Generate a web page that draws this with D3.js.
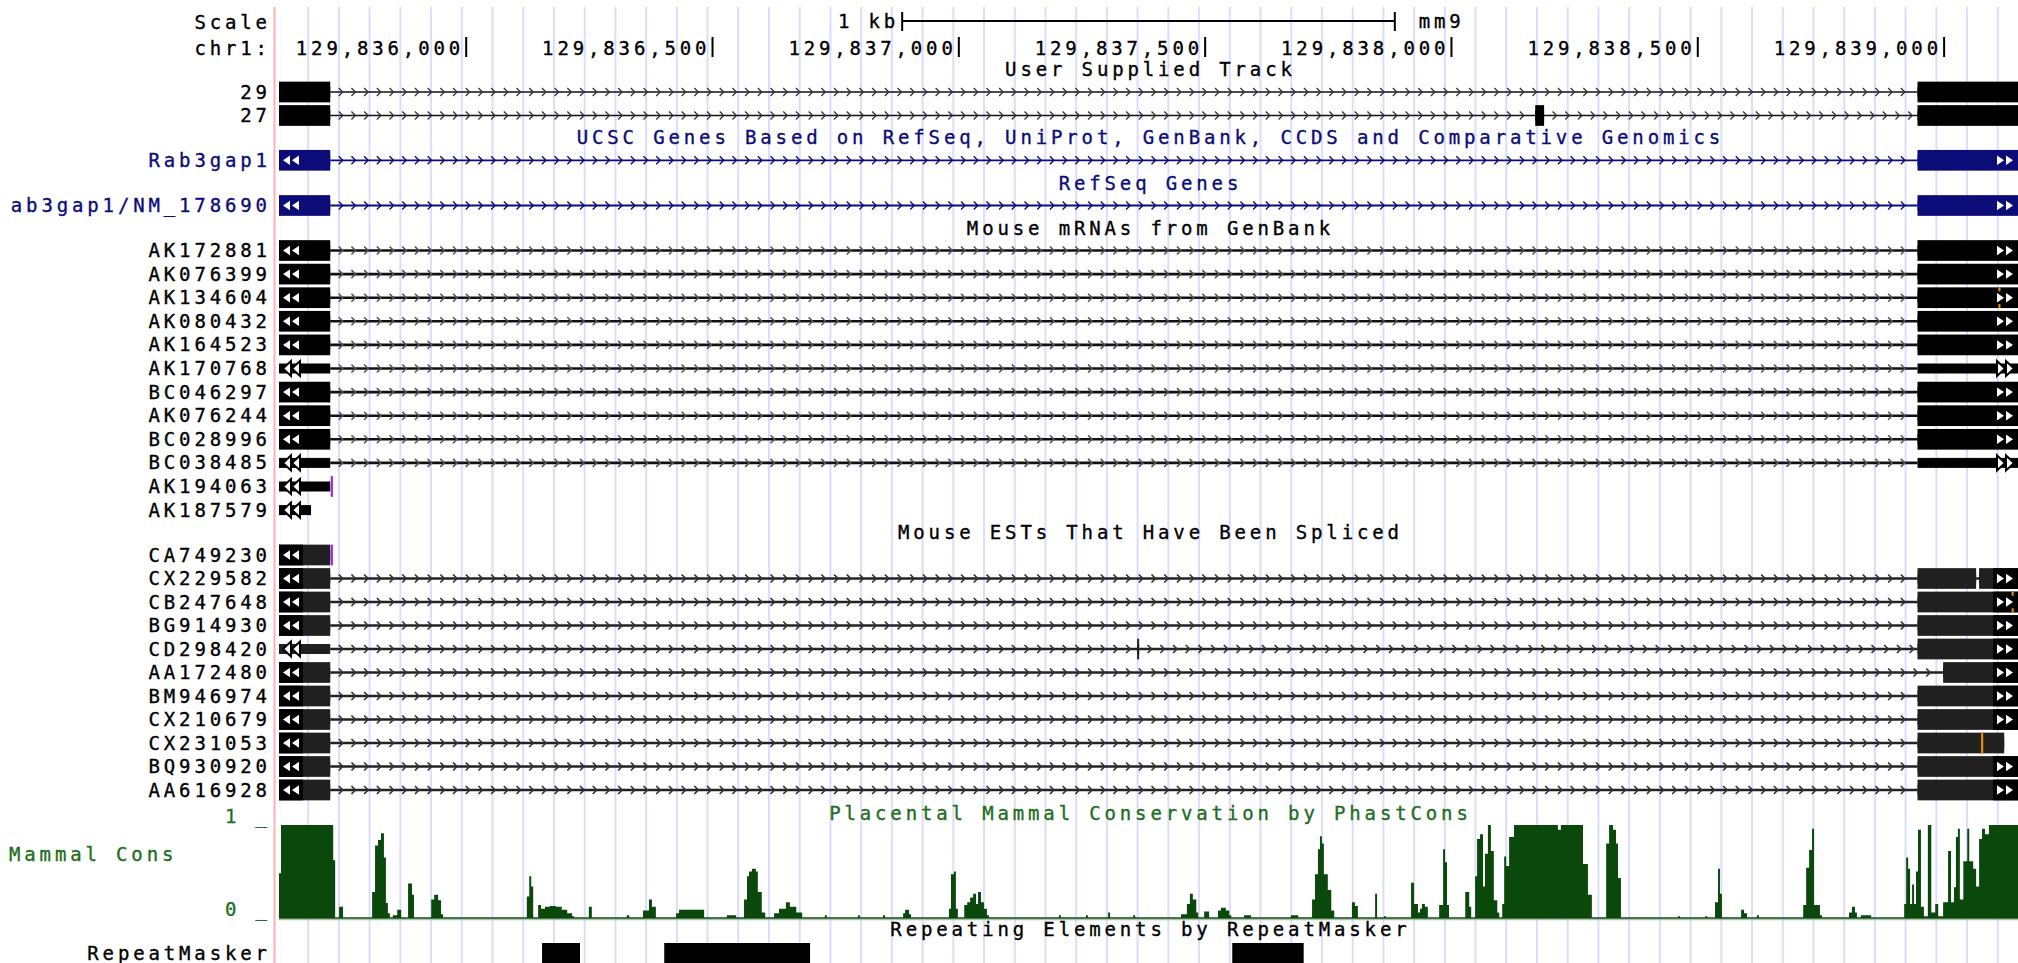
<!DOCTYPE html>
<html>
<head>
<meta charset="utf-8">
<script src="https://cdn.jsdelivr.net/npm/d3@7"></script>
<style>
  html, body { margin: 0; padding: 0; background: #fff; }
  svg { display: block; }
  text { font-family: "DejaVu Sans Mono", "Liberation Mono", monospace; font-size: 19px; stroke-width: 0.35px; }
</style>
</head>
<body>
<svg id="browser" width="2018" height="963"></svg>
<script>
// ---- window and ruler ----
const chromName = "chr1";
const assembly = "mm9";
const winStart = 129835620, winEnd = 129839150;
const rulerTicks = [129836000, 129836500, 129837000, 129837500, 129838000, 129838500, 129839000];
const scaleBarBp = 1000;
const scaleBarLabel = "1 kb";

// ---- shared exon coordinates (bp) ----
const leftExon = [129835400, 129835724];
const rightExon = [129838946, 129839400];

// ---- User Supplied Track ----
const userNames = ["29", "27"];
const userExons = [
  [leftExon, rightExon],
  [leftExon, [129838170, 129838188], rightExon]
];

// ---- UCSC Genes / RefSeq ----
const knownName = "Rab3gap1";
const knownExons = [leftExon, rightExon];
const refName = "ab3gap1/NM_178690";   // label column shows the tail of the name
const refExons = [leftExon, rightExon];

// ---- Mouse mRNAs ----
const mrnaNames = ["AK172881", "AK076399", "AK134604", "AK080432", "AK164523", "AK170768",
  "BC046297", "AK076244", "BC028996", "BC038485", "AK194063", "AK187579"];
const mrnaExons = [
  [leftExon, rightExon], [leftExon, rightExon], [leftExon, rightExon], [leftExon, rightExon],
  [leftExon, rightExon], [leftExon, rightExon], [leftExon, rightExon], [leftExon, rightExon],
  [leftExon, rightExon], [leftExon, rightExon], [leftExon], [[129835400, 129835685]]
];
// thick (coding) span per mRNA; equal ends mean the whole alignment is drawn thin
const mrnaThickStart = [129835000, 129835000, 129835000, 129835000, 129835000, 0,
  129835000, 129835000, 129835000, 0, 0, 0];
const mrnaThickEnd = [129840000, 129840000, 129840000, 129840000, 129840000, 0,
  129840000, 129840000, 129840000, 0, 0, 0];

// ---- Spliced ESTs ----
const estNames = ["CA749230", "CX229582", "CB247648", "BG914930", "CD298420", "AA172480",
  "BM946974", "CX210679", "CX231053", "BQ930920", "AA616928"];
const estExons = [
  [leftExon],
  [leftExon, [129838946, 129839065], [129839071, 129839400]],
  [leftExon, rightExon],
  [leftExon, rightExon],
  [leftExon, [129837362, 129837366], rightExon],
  [leftExon, [129838998, 129839400]],
  [leftExon, rightExon],
  [leftExon, rightExon],
  [leftExon, [129838946, 129839122]],
  [leftExon, rightExon],
  [leftExon, rightExon]
];
const estThickStart = [129835000, 129835000, 129835000, 129835000, 129835724, 129835000,
  129835000, 129835000, 129835000, 129835000, 129835000];

// ---- base-level marks on alignments ----
const polyAMarkNames = ["AK194063", "CA749230"];
const polyAMarkPos = [129835725, 129835725];
const mismatchNames = ["AK134604", "CB247648", "CX231053"];
const mismatchPos = [129839112, 129839139, 129839077];
const mismatchFull = [false, false, true];

// ---- PhastCons placental mammal conservation (bp from window start, score) ----
const consOffset = [0, 4, 110, 114, 122, 130, 189, 195, 201, 207, 213, 217, 221, 225, 231, 240, 248,
  262, 270, 274, 309, 315, 323, 329, 333, 503, 508, 512, 516, 526, 532, 540, 550, 562, 574, 585, 595, 599,
  629, 635, 706, 711, 739, 751, 757, 765, 806, 812, 844, 863, 909, 928, 944, 950, 954, 960, 968, 972, 980,
  987, 1005, 1015, 1029, 1037, 1050, 1062, 1108, 1112, 1175, 1179, 1226, 1230, 1267, 1271, 1279, 1283,
  1360, 1364, 1370, 1374, 1378, 1391, 1397, 1403, 1409, 1415, 1419, 1425, 1431, 1437, 1441, 1583, 1587,
  1638, 1642, 1683, 1687, 1734, 1738, 1831, 1843, 1849, 1855, 1862, 1866, 1878, 1888, 1906, 1912, 1922,
  1929, 1933, 1959, 1973, 2054, 2069, 2097, 2103, 2109, 2113, 2117, 2121, 2129, 2136, 2142, 2178, 2184,
  2190, 2225, 2229, 2243, 2247, 2298, 2304, 2312, 2316, 2320, 2326, 2332, 2355, 2363, 2367, 2371, 2375,
  2408, 2416, 2420, 2428, 2432, 2438, 2444, 2448, 2454, 2460, 2466, 2473, 2477, 2483, 2487, 2491, 2497,
  2507, 2596, 2602, 2647, 2657, 2665, 2694, 2700, 2708, 2714, 2718, 2724, 2840, 2844, 2895, 2899, 2915,
  2921, 2925, 2929, 2968, 2974, 2980, 3000, 3004, 3094, 3100, 3106, 3112, 3116, 3128, 3132, 3187, 3193,
  3199, 3203, 3211, 3232, 3299, 3303, 3307, 3311, 3315, 3319, 3323, 3327, 3333, 3339, 3347, 3354, 3362,
  3368, 3378, 3388, 3394, 3400, 3404, 3408, 3412, 3419, 3427, 3431, 3439, 3445, 3451, 3457, 3463, 3471,
  3530];
const consScore = [0.48, 1.0, 0.62, 0, 0.12, 0, 0.28, 0.78, 0.84, 0.91, 0.65, 0.16, 0.05, 0, 0.03, 0.09, 0,
  0.37, 0.25, 0, 0.2, 0.25, 0.19, 0.04, 0, 0.23, 0.45, 0.34, 0, 0.14, 0.1, 0.12, 0.13, 0.12, 0.09, 0.05, 0.02, 0,
  0.12, 0, 0.03, 0, 0.08, 0.2, 0.12, 0, 0.05, 0.09, 0.09, 0, 0.03, 0, 0.2, 0.45, 0.5, 0.53, 0.5, 0.28, 0.06,
  0, 0.05, 0.1, 0.17, 0.12, 0.06, 0, 0.03, 0, 0.03, 0, 0.03, 0, 0.05, 0.09, 0.04, 0,
  0.1, 0.47, 0.5, 0.1, 0, 0.14, 0.17, 0.22, 0.26, 0.15, 0.28, 0.17, 0.1, 0.03, 0, 0.03, 0,
  0.03, 0, 0.06, 0, 0.03, 0, 0.04, 0.15, 0.26, 0.2, 0.06, 0, 0.07, 0, 0.08, 0.11, 0.08,
  0.03, 0, 0.03, 0, 0.03, 0, 0.2, 0.47, 0.74, 0.88, 0.8, 0.47, 0.3, 0.08, 0, 0.17, 0.13,
  0, 0.26, 0, 0.02, 0, 0.38, 0.15, 0.06, 0.1, 0.15, 0.12, 0, 0.14, 0.74, 0.6, 0.14, 0,
  0.28, 0.12, 0, 0.45, 0.85, 0.9, 0.34, 0.69, 1.0, 0.72, 0.19, 0.06, 0, 0.15, 0.66, 0.56, 0.87,
  1.0, 0.95, 1.0, 0.58, 0.25, 0, 0.8, 1.0, 0.95, 0.8, 0.43, 0, 0.02, 0, 0.02, 0, 0.17,
  0.53, 0.26, 0, 0.09, 0.05, 0, 0.03, 0, 0.14, 0.54, 0.73, 0.96, 0.14, 0.03, 0, 0.06, 0.12,
  0.06, 0, 0.03, 0, 0.15, 0.65, 0.53, 0.15, 0.36, 0.15, 0.5, 0.95, 0.12, 0.02, 1.0, 0.06, 0.15,
  0.02, 0.17, 0.72, 0.17, 0.33, 0.87, 0.96, 0.2, 0.61, 0.96, 0.61, 0.53, 0.34, 0.85, 0.96, 0.9, 1.0,
  1.0];
const consTicks = [1, 0];

// ---- RepeatMasker ----
const repeatStart = [129836154, 129836402, 129837555];
const repeatEnd = [129836231, 129836698, 129837700];

// ---- track titles ----
const titleUser = "User Supplied Track";
const titleKnown = "UCSC Genes Based on RefSeq, UniProt, GenBank, CCDS and Comparative Genomics";
const titleRef = "RefSeq Genes";
const titleMrna = "Mouse mRNAs from GenBank";
const titleEst = "Mouse ESTs That Have Been Spliced";
const titleCons = "Placental Mammal Conservation by PhastCons";
const titleRmsk = "Repeating Elements by RepeatMasker";

// ================= drawing =================
const W = 2018, H = 963;
const dataLeft = 279, dataRight = 2018, labelEnd = 267;
const charPitch = 15.3, glyphW = 11.4;
const rowH = 20.7, thinH = 10;
const navy = "#0c0c78", green = "#1e6e1e", consFill = "#0b480b";

const svg = d3.select("#browser");
const xs = d3.scaleLinear().domain([winStart, winEnd]).range([dataLeft, dataRight]);
const dataMid = (winStart + winEnd) / 2;

const defs = svg.append("defs");
defs.append("clipPath").attr("id", "dataClip").append("rect")
  .attr("x", dataLeft).attr("y", 0).attr("width", dataRight - dataLeft).attr("height", H);

// guidelines
const guides = svg.append("g");
guides.selectAll("line.g").data(d3.range(308.2, W, 30.72)).join("line")
  .attr("x1", d => d).attr("x2", d => d).attr("y1", 7).attr("y2", H)
  .attr("stroke", "#dcdcff").attr("stroke-width", 2);
guides.append("line").attr("x1", 274.5).attr("x2", 274.5).attr("y1", 7).attr("y2", H)
  .attr("stroke", "#f8b4b4").attr("stroke-width", 2);

const labels = svg.append("g");
const plot = svg.append("g").attr("clip-path", "url(#dataClip)");
const overlay = svg.append("g");

function txt(g, s, x, y, anchor, color) {
  const c = color || "#000";
  const t = g.append("text").attr("x", x).attr("y", y).attr("text-anchor", anchor)
    .attr("fill", c).attr("stroke", c).text(s);
  if (s.length > 1) t.attr("textLength", (s.length - 1) * charPitch + glyphW).attr("lengthAdjust", "spacing");
  return t;
}

// ---- ruler ----
txt(labels, "Scale", labelEnd, 29, "end");
txt(labels, chromName + ":", labelEnd, 55, "end");
{
  const bx0 = xs(dataMid - scaleBarBp / 2), bx1 = xs(dataMid + scaleBarBp / 2), by = 21;
  overlay.append("line").attr("x1", bx0).attr("x2", bx1).attr("y1", by).attr("y2", by)
    .attr("stroke", "#000").attr("stroke-width", 2);
  [bx0, bx1].forEach(x => overlay.append("line").attr("x1", x).attr("x2", x).attr("y1", 12).attr("y2", 31)
    .attr("stroke", "#000").attr("stroke-width", 2));
  txt(overlay, scaleBarLabel, bx0 - 7, 28, "end");
  txt(overlay, assembly, bx1 + 24, 28, "start");
}
rulerTicks.forEach(t => {
  const x = xs(t);
  overlay.append("line").attr("x1", x).attr("x2", x).attr("y1", 37).attr("y2", 57)
    .attr("stroke", "#000").attr("stroke-width", 2);
  txt(overlay, d3.format(",")(t), x - 6, 55, "end");
});

// ---- feature drawing ----
function drawIntron(g, xa, xb, yc, st) {
  g.append("line").attr("x1", xa).attr("x2", xb).attr("y1", yc).attr("y2", yc)
    .attr("stroke", st.line).attr("stroke-width", st.lw);
  if (xb - xa < 16) return;
  let d = "";
  for (let x = xa + 11; x <= xb - 5; x += 12.7) {
    d += `M${x - 2.5},${yc - 4}L${x + 1.5},${yc}L${x - 2.5},${yc + 4}`;
  }
  g.append("path").attr("d", d).attr("fill", "none").attr("stroke", st.chev).attr("stroke-width", st.cw);
}

function clipArrows(g, yc, side, thick, st) {
  const xsArr = side === "left" ? [283, 292] : [1997, 2006];
  if (thick && st.est) {
    const zx = side === "left" ? dataLeft : 1993;
    g.append("rect").attr("x", zx).attr("y", yc - rowH / 2).attr("width", side === "left" ? 24 : 25)
      .attr("height", rowH).attr("fill", "#000");
  }
  xsArr.forEach(xa => {
    const h = thick ? 4.7 : 7.5, w = thick ? 7 : 8;
    const pts = side === "left"
      ? [[xa, yc], [xa + w, yc - h], [xa + w, yc + h]]
      : [[xa + w, yc], [xa, yc - h], [xa, yc + h]];
    const p = g.append("polygon").attr("points", pts.map(q => q.join(",")).join(" ")).attr("fill", "#fff");
    if (!thick) p.attr("stroke", "#000").attr("stroke-width", 2);
  });
}

function drawFeature(g, yc, exons, thickS, thickE, st) {
  const cx = v => Math.max(dataLeft - 2, Math.min(dataRight + 2, xs(v)));
  for (let i = 1; i < exons.length; i++) {
    drawIntron(g, cx(exons[i - 1][1]), cx(exons[i][0]), yc, st);
  }
  exons.forEach(([s, e]) => {
    g.append("rect").attr("x", cx(s)).attr("y", yc - thinH / 2)
      .attr("width", Math.max(1.5, cx(e) - cx(s))).attr("height", thinH).attr("fill", st.fill);
    const ts = Math.max(s, thickS), te = Math.min(e, thickE);
    if (te > ts) {
      g.append("rect").attr("x", cx(ts)).attr("y", yc - rowH / 2)
        .attr("width", Math.max(1.5, cx(te) - cx(ts))).attr("height", rowH).attr("fill", st.fill);
    }
  });
  if (st.arrows) {
    const first = exons[0], last = exons[exons.length - 1];
    if (first[0] < winStart) clipArrows(g, yc, "left", winStart >= thickS && winStart <= thickE, st);
    if (last[1] > winEnd) clipArrows(g, yc, "right", winEnd >= thickS && winEnd <= thickE, st);
  }
}

const styleUser = { fill: "#000", line: "#111", lw: 1.4, chev: "#333", cw: 1.3, arrows: false };
const styleKnown = { fill: navy, line: navy, lw: 1.8, chev: navy, cw: 1.4, arrows: true };
const styleMrna = { fill: "#000", line: "#111", lw: 2.6, chev: "#555", cw: 1.6, arrows: true };
const styleEst = { fill: "#202020", line: "#222", lw: 2.6, chev: "#333", cw: 1.7, arrows: true, est: true };

// ---- User Supplied Track ----
txt(overlay, titleUser, (dataLeft + dataRight) / 2, 76, "middle");
const userY = [92, 115.5];
userNames.forEach((n, i) => {
  txt(labels, n, labelEnd, userY[i] + 6.5, "end");
  drawFeature(plot, userY[i], userExons[i], 0, 1e10, styleUser);
});

// ---- UCSC Genes ----
txt(overlay, titleKnown, (dataLeft + dataRight) / 2, 143.5, "middle", navy);
txt(labels, knownName, labelEnd, 166.8, "end", navy);
drawFeature(plot, 160.3, knownExons, 0, 1e10, styleKnown);

// ---- RefSeq ----
txt(overlay, titleRef, (dataLeft + dataRight) / 2, 189.5, "middle", navy);
txt(labels, refName, labelEnd, 212, "end", navy);
drawFeature(plot, 205.5, refExons, 0, 1e10, styleKnown);

// ---- mRNAs ----
txt(overlay, titleMrna, (dataLeft + dataRight) / 2, 234.5, "middle");
const mrnaY = i => 250.5 + i * 23.6;
mrnaNames.forEach((n, i) => {
  txt(labels, n, labelEnd, mrnaY(i) + 6.5, "end");
  drawFeature(plot, mrnaY(i), mrnaExons[i], mrnaThickStart[i], mrnaThickEnd[i], styleMrna);
});

// ---- ESTs ----
txt(overlay, titleEst, (dataLeft + dataRight) / 2, 538.5, "middle");
const estY = i => 555 + i * 23.5;
estNames.forEach((n, i) => {
  txt(labels, n, labelEnd, estY(i) + 6.5, "end");
  drawFeature(plot, estY(i), estExons[i], estThickStart[i], 1e10, styleEst);
});

// ---- alignment marks ----
function rowYOf(name) {
  let k = mrnaNames.indexOf(name);
  if (k >= 0) return mrnaY(k);
  k = estNames.indexOf(name);
  return estY(k);
}
polyAMarkNames.forEach((n, i) => {
  const yc = rowYOf(n);
  plot.append("rect").attr("x", xs(polyAMarkPos[i])).attr("y", yc - rowH / 2)
    .attr("width", 2.2).attr("height", rowH).attr("fill", "#a020f0");
});
mismatchNames.forEach((n, i) => {
  const yc = rowYOf(n), x = xs(mismatchPos[i]);
  if (mismatchFull[i]) {
    plot.append("rect").attr("x", x - 1).attr("y", yc - rowH / 2).attr("width", 2.2).attr("height", rowH)
      .attr("fill", "#e08a00");
  } else {
    [yc - rowH / 2, yc + rowH / 2 - 4].forEach(y0 => plot.append("rect").attr("x", x - 1).attr("y", y0)
      .attr("width", 2.2).attr("height", 4).attr("fill", "#e08a00"));
  }
});

// ---- Conservation wiggle ----
txt(overlay, titleCons, (dataLeft + dataRight) / 2, 820, "middle", green);
txt(labels, "Mammal Cons", 9, 861, "start", green);
const consTop = 825, consBase = 918;
const ys = d3.scaleLinear().domain([0, 1]).range([consBase, consTop]);
consTicks.forEach(v => txt(labels, v + " _", labelEnd, ys(v) - 2, "end", green));
const consPts = consOffset.map((o, i) => ({ pos: winStart + o, v: consScore[i] }));
plot.append("path").datum(consPts)
  .attr("d", d3.area().curve(d3.curveStepAfter).x(d => xs(d.pos)).y0(consBase).y1(d => ys(d.v)))
  .attr("fill", consFill);
plot.append("line").attr("x1", dataLeft).attr("x2", dataRight).attr("y1", consBase).attr("y2", consBase)
  .attr("stroke", consFill).attr("stroke-width", 1.6);
plot.append("line").attr("x1", dataLeft).attr("x2", dataRight).attr("y1", consBase + 1.6).attr("y2", consBase + 1.6)
  .attr("stroke", "#a9c2a9").attr("stroke-width", 1.4);

// ---- RepeatMasker ----
txt(overlay, titleRmsk, (dataLeft + dataRight) / 2, 936, "middle");
txt(labels, "RepeatMasker", labelEnd, 959.5, "end");
plot.selectAll("rect.rmsk").data(repeatStart).join("rect")
  .attr("x", d => xs(d)).attr("y", 943)
  .attr("width", (d, i) => xs(repeatEnd[i]) - xs(d)).attr("height", 22).attr("fill", "#000");
</script>
</body>
</html>
